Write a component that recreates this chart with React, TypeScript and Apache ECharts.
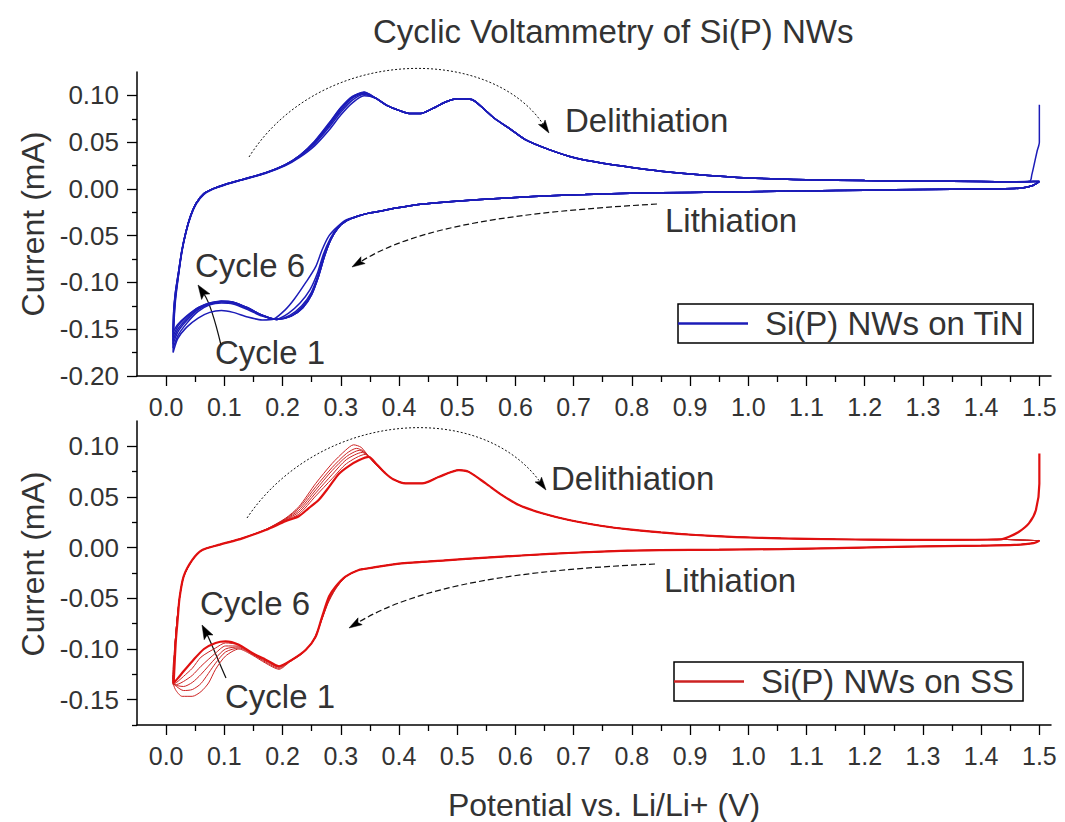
import React, { useEffect, useRef } from 'react';
import * as echarts from 'echarts';

const FONT = '"Liberation Sans", Arial, sans-serif';

const xMajorTicks = [0, 0.1, 0.2, 0.3, 0.4, 0.5, 0.6, 0.7, 0.8, 0.9, 1.0, 1.1, 1.2, 1.3, 1.4, 1.5];
const xMinorTicks = [0.05, 0.15, 0.25, 0.35, 0.45, 0.55, 0.65, 0.75, 0.85, 0.95, 1.05, 1.15, 1.25, 1.35, 1.45];
const tinYMajorTicks = [-0.2, -0.15, -0.1, -0.05, 0, 0.05, 0.1];
const tinYMinorTicks = [-0.175, -0.125, -0.075, -0.025, 0.025, 0.075];
const ssYMajorTicks = [-0.15, -0.1, -0.05, 0, 0.05, 0.1];
const ssYMinorTicks = [-0.175, -0.125, -0.075, -0.025, 0.025, 0.075];

const tinName = 'Si(P) NWs on TiN';
const ssName = 'Si(P) NWs on SS';

// ---------- Si(P) NWs on TiN (top panel) ----------
const tinLithStart = [[1.5, 0.008], [1.49, 0.004]];
const tinLithTail = [[1.47, 0.001], [1.43, 0.0], [1.35, -0.0003], [1.25, -0.001], [1.15, -0.0018], [1.05, -0.0026], [0.95, -0.0034], [0.85, -0.0042], [0.78, -0.0048], [0.72, -0.006], [0.66, -0.0072], [0.6, -0.0092], [0.54, -0.0113], [0.48, -0.014], [0.43, -0.0168], [0.39, -0.021], [0.37, -0.0235]];
const tinLithC1 = [[0.35, -0.0256], [0.33, -0.029], [0.31, -0.033], [0.295, -0.04], [0.28, -0.05], [0.268, -0.065], [0.257, -0.083], [0.24, -0.1], [0.22, -0.118], [0.205, -0.129], [0.185, -0.139], [0.165, -0.14], [0.14, -0.137], [0.115, -0.132], [0.095, -0.13], [0.075, -0.132], [0.055, -0.138], [0.035, -0.148], [0.02, -0.16], [0.012, -0.175]];
const tinLithC2 = [[0.35, -0.0256], [0.33, -0.029], [0.31, -0.034], [0.295, -0.041], [0.282, -0.053], [0.27, -0.07], [0.26, -0.09], [0.247, -0.108], [0.23, -0.122], [0.21, -0.133], [0.19, -0.139], [0.165, -0.136], [0.14, -0.129], [0.115, -0.123], [0.095, -0.122], [0.075, -0.124], [0.055, -0.131], [0.035, -0.144], [0.02, -0.157], [0.012, -0.17]];
const tinLithC3 = [[0.35, -0.0256], [0.33, -0.029], [0.31, -0.034], [0.295, -0.042], [0.283, -0.054], [0.271, -0.071], [0.261, -0.092], [0.249, -0.111], [0.233, -0.125], [0.213, -0.135], [0.19, -0.1395], [0.165, -0.135], [0.14, -0.128], [0.115, -0.122], [0.095, -0.121], [0.075, -0.123], [0.055, -0.129], [0.035, -0.141], [0.02, -0.153], [0.012, -0.166]];
const tinLithC4 = [[0.35, -0.0256], [0.33, -0.029], [0.31, -0.034], [0.295, -0.042], [0.283, -0.054], [0.272, -0.072], [0.262, -0.093], [0.25, -0.112], [0.234, -0.126], [0.214, -0.136], [0.19, -0.1396], [0.165, -0.135], [0.14, -0.127], [0.115, -0.121], [0.095, -0.12], [0.075, -0.123], [0.055, -0.128], [0.035, -0.139], [0.02, -0.15], [0.012, -0.162]];
const tinLithC5 = [[0.35, -0.0256], [0.33, -0.029], [0.31, -0.034], [0.295, -0.042], [0.283, -0.054], [0.272, -0.072], [0.262, -0.093], [0.25, -0.113], [0.235, -0.127], [0.215, -0.136], [0.19, -0.1396], [0.165, -0.135], [0.14, -0.127], [0.115, -0.121], [0.095, -0.12], [0.075, -0.122], [0.055, -0.127], [0.035, -0.137], [0.02, -0.147], [0.012, -0.158]];
const tinLithC6 = [[0.35, -0.0256], [0.33, -0.029], [0.31, -0.034], [0.295, -0.042], [0.283, -0.054], [0.272, -0.072], [0.262, -0.093], [0.25, -0.113], [0.235, -0.127], [0.215, -0.136], [0.19, -0.1396], [0.165, -0.135], [0.14, -0.127], [0.115, -0.121], [0.095, -0.12], [0.075, -0.122], [0.055, -0.127], [0.035, -0.136], [0.02, -0.145], [0.012, -0.153]];
const tinDelithC1 = [[0.012, -0.175], [0.013, -0.15], [0.016, -0.12], [0.021, -0.094], [0.027, -0.068], [0.034, -0.047], [0.042, -0.03], [0.052, -0.016], [0.065, -0.006], [0.08, -0.0005], [0.1, 0.004], [0.13, 0.0095], [0.17, 0.0165], [0.205, 0.025], [0.23, 0.034], [0.255, 0.046], [0.28, 0.063], [0.3, 0.079], [0.32, 0.092], [0.34, 0.0995], [0.36, 0.097], [0.38, 0.089]];
const tinDelithC2 = [[0.012, -0.17], [0.013, -0.145], [0.016, -0.117], [0.021, -0.093], [0.027, -0.067], [0.034, -0.046], [0.042, -0.029], [0.052, -0.015], [0.065, -0.005], [0.08, 0.0], [0.1, 0.0045], [0.13, 0.0097], [0.17, 0.0168], [0.205, 0.0255], [0.23, 0.035], [0.255, 0.048], [0.28, 0.066], [0.3, 0.082], [0.32, 0.095], [0.34, 0.101], [0.36, 0.097], [0.38, 0.089]];
const tinDelithC3 = [[0.012, -0.166], [0.013, -0.14], [0.016, -0.115], [0.021, -0.092], [0.027, -0.067], [0.034, -0.046], [0.042, -0.029], [0.052, -0.015], [0.065, -0.005], [0.08, 0.0], [0.1, 0.0045], [0.13, 0.0098], [0.17, 0.017], [0.205, 0.0258], [0.23, 0.0355], [0.255, 0.049], [0.28, 0.068], [0.3, 0.084], [0.32, 0.097], [0.34, 0.102], [0.36, 0.097], [0.38, 0.089]];
const tinDelithC4 = [[0.012, -0.162], [0.013, -0.135], [0.016, -0.112], [0.021, -0.091], [0.027, -0.066], [0.034, -0.046], [0.042, -0.029], [0.052, -0.015], [0.065, -0.005], [0.08, 0.0], [0.1, 0.0045], [0.13, 0.0099], [0.17, 0.0171], [0.205, 0.026], [0.23, 0.036], [0.255, 0.05], [0.28, 0.069], [0.3, 0.086], [0.32, 0.098], [0.34, 0.103], [0.36, 0.097], [0.38, 0.089]];
const tinDelithC5 = [[0.012, -0.158], [0.013, -0.132], [0.016, -0.111], [0.021, -0.09], [0.027, -0.066], [0.034, -0.046], [0.042, -0.029], [0.052, -0.015], [0.065, -0.005], [0.08, 0.0], [0.1, 0.0045], [0.13, 0.0099], [0.17, 0.0171], [0.205, 0.026], [0.23, 0.036], [0.255, 0.0505], [0.28, 0.07], [0.3, 0.0865], [0.32, 0.0985], [0.34, 0.1032], [0.36, 0.097], [0.38, 0.089]];
const tinDelithC6 = [[0.012, -0.153], [0.013, -0.13], [0.016, -0.11], [0.021, -0.09], [0.027, -0.066], [0.034, -0.046], [0.042, -0.029], [0.052, -0.015], [0.065, -0.005], [0.08, 0.0], [0.1, 0.0045], [0.13, 0.0099], [0.17, 0.0171], [0.205, 0.026], [0.23, 0.036], [0.255, 0.051], [0.28, 0.0705], [0.3, 0.087], [0.32, 0.099], [0.34, 0.1035], [0.36, 0.097], [0.38, 0.089]];
const tinDelithTail = [[0.4, 0.084], [0.42, 0.0805], [0.44, 0.081], [0.463, 0.0876], [0.48, 0.093], [0.5, 0.0965], [0.525, 0.0955], [0.545, 0.086], [0.565, 0.075], [0.589, 0.065], [0.617, 0.0527], [0.658, 0.042], [0.703, 0.033], [0.75, 0.0275], [0.8, 0.023], [0.85, 0.019], [0.9, 0.016], [1.0, 0.0117], [1.1, 0.0098], [1.2, 0.0089], [1.3, 0.0083], [1.4, 0.0079], [1.45, 0.0077]];
const tinEndTip = [[1.48, 0.0078], [1.5, 0.008]];
const tinEndSpike = [[1.484, 0.0085], [1.487, 0.015], [1.49, 0.023], [1.496, 0.04], [1.5, 0.05], [1.5, 0.09]];

// ---------- Si(P) NWs on SS (bottom panel) ----------
const ssLithStart = [[1.5, 0.0069], [1.49, 0.0045]];
const ssLithTail = [[1.457, 0.0027], [1.4, 0.002], [1.274, 0.001], [1.15, -0.0005], [1.056, -0.0014], [0.95, -0.002], [0.85, -0.0025], [0.793, -0.003], [0.7, -0.005], [0.618, -0.0075], [0.55, -0.0098], [0.48, -0.0125], [0.4, -0.0158], [0.348, -0.0203]];
const ssLithC1 = [[0.331, -0.022], [0.308, -0.029], [0.291, -0.041], [0.278, -0.055], [0.265, -0.075], [0.252, -0.092], [0.235, -0.104], [0.212, -0.113], [0.194, -0.12], [0.171, -0.114], [0.148, -0.106], [0.125, -0.1], [0.102, -0.107], [0.085, -0.12], [0.073, -0.1335], [0.06, -0.142], [0.045, -0.1467], [0.0275, -0.1467], [0.016, -0.14], [0.011, -0.13]];
const ssLithC2 = [[0.331, -0.022], [0.308, -0.029], [0.291, -0.0405], [0.279, -0.053], [0.266, -0.073], [0.254, -0.091], [0.237, -0.103], [0.213, -0.112], [0.194, -0.119], [0.171, -0.113], [0.148, -0.105], [0.125, -0.099], [0.102, -0.103], [0.085, -0.114], [0.06, -0.134], [0.045, -0.14], [0.03, -0.141], [0.018, -0.137], [0.012, -0.133]];
const ssLithC3 = [[0.331, -0.022], [0.308, -0.0288], [0.291, -0.04], [0.279, -0.052], [0.267, -0.071], [0.255, -0.09], [0.238, -0.102], [0.214, -0.111], [0.194, -0.118], [0.171, -0.112], [0.148, -0.105], [0.125, -0.098], [0.102, -0.1], [0.085, -0.109], [0.06, -0.125], [0.045, -0.133], [0.03, -0.137], [0.018, -0.136], [0.012, -0.134]];
const ssLithC4 = [[0.331, -0.022], [0.308, -0.0287], [0.291, -0.0395], [0.28, -0.05], [0.267, -0.07], [0.256, -0.089], [0.239, -0.1015], [0.215, -0.111], [0.194, -0.1175], [0.171, -0.111], [0.148, -0.1045], [0.125, -0.097], [0.102, -0.097], [0.085, -0.104], [0.06, -0.117], [0.045, -0.126], [0.03, -0.132], [0.018, -0.135], [0.012, -0.135]];
const ssLithC5 = [[0.331, -0.022], [0.308, -0.0286], [0.291, -0.039], [0.28, -0.049], [0.268, -0.069], [0.257, -0.088], [0.24, -0.101], [0.216, -0.1105], [0.194, -0.117], [0.171, -0.1105], [0.148, -0.104], [0.125, -0.096], [0.102, -0.094], [0.085, -0.099], [0.06, -0.108], [0.045, -0.119], [0.03, -0.127], [0.018, -0.133], [0.012, -0.135]];
const ssLithC6 = [[0.331, -0.022], [0.308, -0.0285], [0.291, -0.0384], [0.28, -0.048], [0.268, -0.068], [0.257, -0.0876], [0.24, -0.1007], [0.2165, -0.1105], [0.194, -0.117], [0.171, -0.1105], [0.148, -0.104], [0.125, -0.0958], [0.102, -0.0925], [0.085, -0.094], [0.065, -0.1], [0.045, -0.112], [0.03, -0.122], [0.02, -0.129], [0.013, -0.1335]];
const ssDelithC1 = [[0.011, -0.13], [0.013, -0.11], [0.016, -0.09], [0.019, -0.07], [0.023, -0.05], [0.03, -0.029], [0.045, -0.0125], [0.062, -0.0025], [0.09, 0.0027], [0.131, 0.0095], [0.171, 0.018], [0.205, 0.029], [0.228, 0.0404], [0.257, 0.0634], [0.285, 0.083], [0.308, 0.096], [0.322, 0.1015], [0.335, 0.099], [0.348, 0.09], [0.36, 0.082], [0.377, 0.0732]];
const ssDelithC2 = [[0.012, -0.133], [0.014, -0.11], [0.016, -0.09], [0.019, -0.07], [0.023, -0.05], [0.03, -0.029], [0.045, -0.0124], [0.062, -0.0024], [0.09, 0.0027], [0.131, 0.0094], [0.171, 0.0178], [0.205, 0.0285], [0.228, 0.039], [0.257, 0.06], [0.285, 0.079], [0.31, 0.093], [0.327, 0.098], [0.34, 0.095], [0.352, 0.087], [0.362, 0.081], [0.377, 0.0732]];
const ssDelithC3 = [[0.012, -0.134], [0.014, -0.11], [0.016, -0.09], [0.019, -0.07], [0.023, -0.05], [0.03, -0.029], [0.045, -0.0123], [0.062, -0.0024], [0.09, 0.0027], [0.131, 0.0093], [0.171, 0.0177], [0.205, 0.028], [0.228, 0.037], [0.257, 0.057], [0.285, 0.076], [0.31, 0.09], [0.332, 0.096], [0.345, 0.092], [0.356, 0.085], [0.366, 0.08], [0.377, 0.0732]];
const ssDelithC4 = [[0.012, -0.135], [0.014, -0.11], [0.016, -0.09], [0.019, -0.07], [0.023, -0.05], [0.03, -0.0287], [0.045, -0.0122], [0.062, -0.0023], [0.09, 0.0027], [0.131, 0.0093], [0.171, 0.0176], [0.205, 0.0275], [0.228, 0.035], [0.257, 0.054], [0.285, 0.072], [0.31, 0.087], [0.337, 0.094], [0.35, 0.089], [0.36, 0.083], [0.368, 0.079], [0.377, 0.0732]];
const ssDelithC5 = [[0.012, -0.135], [0.014, -0.11], [0.016, -0.09], [0.019, -0.07], [0.023, -0.05], [0.03, -0.0286], [0.045, -0.0121], [0.062, -0.0023], [0.09, 0.0027], [0.131, 0.0092], [0.171, 0.0175], [0.205, 0.027], [0.228, 0.033], [0.257, 0.051], [0.285, 0.068], [0.31, 0.083], [0.342, 0.092], [0.353, 0.087], [0.363, 0.082], [0.37, 0.078], [0.377, 0.0732]];
const ssDelithC6 = [[0.013, -0.1335], [0.015, -0.11], [0.017, -0.09], [0.02, -0.07], [0.023, -0.05], [0.03, -0.0285], [0.045, -0.0121], [0.062, -0.0023], [0.09, 0.0027], [0.131, 0.0092], [0.171, 0.0174], [0.205, 0.026], [0.228, 0.031], [0.245, 0.039], [0.262, 0.047], [0.28, 0.06], [0.297, 0.073], [0.315, 0.081], [0.331, 0.0863], [0.348, 0.0896], [0.362, 0.082], [0.377, 0.0732]];
const ssDelithTail = [[0.39, 0.0675], [0.411, 0.0634], [0.44, 0.0634], [0.469, 0.07], [0.503, 0.0765], [0.52, 0.0748], [0.549, 0.0634], [0.577, 0.0519], [0.606, 0.042], [0.646, 0.0339], [0.692, 0.0273], [0.749, 0.0214], [0.795, 0.018], [0.85, 0.015], [0.91, 0.0125], [0.98, 0.0105], [1.056, 0.0092], [1.15, 0.0083], [1.274, 0.0076], [1.38, 0.0078], [1.434, 0.0082]];
const ssEndTip = [[1.47, 0.0075], [1.5, 0.0069]];
const ssEndSpike = [[1.448, 0.0108], [1.465, 0.0157], [1.482, 0.024], [1.494, 0.037], [1.5, 0.063], [1.5, 0.093]];

const tinLithHeads = [tinLithC1, tinLithC2, tinLithC3, tinLithC4, tinLithC5, tinLithC6];
const tinDelithHeads = [tinDelithC1, tinDelithC2, tinDelithC3, tinDelithC4, tinDelithC5, tinDelithC6];
const ssLithHeads = [ssLithC1, ssLithC2, ssLithC3, ssLithC4, ssLithC5, ssLithC6];
const ssDelithHeads = [ssDelithC1, ssDelithC2, ssDelithC3, ssDelithC4, ssDelithC5, ssDelithC6];

function arrow(p0: number[], c1: number[], c2: number[], p1: number[], dash: number[], width: number, headLen: number, headW: number) {
  const dx = p1[0] - c2[0];
  const dy = p1[1] - c2[1];
  const L = Math.hypot(dx, dy);
  const ux = dx / L, uy = dy / L;
  const bx = p1[0] - ux * headLen * 0.8, by = p1[1] - uy * headLen * 0.8;
  const hx = p1[0] - ux * headLen, hy = p1[1] - uy * headLen;
  return [
    {
      type: 'bezierCurve',
      shape: { x1: p0[0], y1: p0[1], cpx1: c1[0], cpy1: c1[1], cpx2: c2[0], cpy2: c2[1], x2: bx, y2: by },
      style: { stroke: '#111', lineWidth: width, lineDash: dash, fill: null },
      silent: true,
    },
    {
      type: 'polygon',
      shape: { points: [[p1[0], p1[1]], [hx - uy * headW, hy + ux * headW], [bx, by], [hx + uy * headW, hy - ux * headW]] },
      style: { fill: '#000', stroke: '#000', lineWidth: 0.5 },
      silent: true,
    },
  ];
}

function label(text: string, x: number, y: number) {
  return {
    type: 'text',
    x,
    y,
    style: { text, fontSize: 33, fontFamily: FONT, fill: '#333', verticalAlign: 'middle', align: 'left' },
    silent: true,
  };
}

const xAxisCommon = (gridIndex: number) => ({
  type: 'value',
  gridIndex,
  min: -0.05,
  max: 1.52,
  axisLine: { show: true, onZero: false, lineStyle: { color: '#000', width: 1.5 } },
  axisTick: { show: true, customValues: xMajorTicks, length: 10, lineStyle: { color: '#000', width: 1.3 } },
  axisLabel: { show: true, customValues: xMajorTicks, margin: 18, fontSize: 25, fontFamily: FONT, color: '#333', formatter: (v: number) => v.toFixed(1) },
  splitLine: { show: false },
});
const xAxisMinor = (gridIndex: number) => ({
  type: 'value',
  gridIndex,
  position: 'bottom',
  min: -0.05,
  max: 1.52,
  axisLine: { show: false, onZero: false },
  axisTick: { show: true, customValues: xMinorTicks, length: 6, lineStyle: { color: '#000', width: 1.3 } },
  axisLabel: { show: false },
  splitLine: { show: false },
});
const yAxisMajor = (gridIndex: number, min: number, max: number, ticks: number[], namePad: number[]) => ({
  type: 'value',
  gridIndex,
  min,
  max,
  name: 'Current (mA)',
  nameLocation: 'middle',
  nameGap: 88,
  nameTextStyle: { fontSize: 32, fontFamily: FONT, color: '#333', padding: namePad },
  axisLine: { show: true, onZero: false, lineStyle: { color: '#000', width: 1.5 } },
  axisTick: { show: true, customValues: ticks, length: 10, lineStyle: { color: '#000', width: 1.3 } },
  axisLabel: { show: true, customValues: ticks, margin: 18, fontSize: 26, fontFamily: FONT, color: '#333', formatter: (v: number) => v.toFixed(2) },
  splitLine: { show: false },
});
const yAxisMinor = (gridIndex: number, min: number, max: number, ticks: number[]) => ({
  type: 'value',
  gridIndex,
  position: 'left',
  min,
  max,
  axisLine: { show: false, onZero: false },
  axisTick: { show: true, customValues: ticks, length: 5, lineStyle: { color: '#000', width: 1.3 } },
  axisLabel: { show: false },
  splitLine: { show: false },
});

export default function App() {
  const ref = useRef<HTMLDivElement>(null);
  useEffect(() => {
    if (!ref.current) return;
    const chart = echarts.init(ref.current, null, { renderer: 'svg' });

    const series: any[] = [];
    for (let k = 0; k < 6; k++) {
      series.push({
        type: 'line',
        name: tinName,
        xAxisIndex: 0,
        yAxisIndex: 0,
        symbol: 'none',
        smooth: 0.25,
        lineStyle: { color: '#1c1cb8', width: 1.5 },
        itemStyle: { color: '#1c1cb8' },
        data: [...tinLithStart, ...tinLithTail, ...tinLithHeads[k], ...tinDelithHeads[k], ...tinDelithTail, ...(k === 5 ? tinEndSpike : tinEndTip)],
      });
    }
    for (let k = 0; k < 6; k++) {
      series.push({
        type: 'line',
        name: ssName,
        xAxisIndex: 2,
        yAxisIndex: 2,
        symbol: 'none',
        smooth: 0.25,
        lineStyle: { color: k === 5 ? '#e01010' : '#cc2222', width: k === 5 ? 2.2 : 1 },
        itemStyle: { color: '#cc2222' },
        data: [...ssLithStart, ...ssLithTail, ...ssLithHeads[k], ...ssDelithHeads[k], ...ssDelithTail, ...(k === 5 ? ssEndSpike : ssEndTip)],
      });
    }

    const legendCommon = {
      orient: 'horizontal',
      icon: 'rect',
      itemWidth: 70,
      itemHeight: 2.5,
      padding: [3, 9, 3, 0],
      borderColor: '#000',
      borderWidth: 1.5,
      selectedMode: false,
      textStyle: { fontSize: 33, fontFamily: FONT, color: '#333', padding: [0, 0, 0, 12] },
    };

    const option: any = {
      animation: false,
      backgroundColor: '#fff',
      textStyle: { fontFamily: FONT },
      title: {
        text: 'Cyclic Voltammetry of Si(P) NWs',
        left: 368,
        top: 10,
        textStyle: { fontSize: 33, fontWeight: 'normal', fontFamily: FONT, color: '#333' },
      },
      legend: [
        { ...legendCommon, data: [tinName], left: 678, top: 304 },
        { ...legendCommon, data: [ssName], left: 674, top: 662 },
      ],
      grid: [
        { left: 137, right: 14, top: 72, height: 304 },
        { left: 137, right: 14, top: 421, height: 304 },
      ],
      xAxis: [
        xAxisCommon(0),
        xAxisMinor(0),
        {
          ...xAxisCommon(1),
          name: 'Potential vs. Li/Li+ (V)',
          nameLocation: 'middle',
          nameGap: 64,
          nameTextStyle: { fontSize: 32, fontFamily: FONT, color: '#333', padding: [0, 0, 0, 20] },
        },
        xAxisMinor(1),
      ],
      yAxis: [
        yAxisMajor(0, -0.2, 0.125, tinYMajorTicks, [0, 0, 0, 0]),
        yAxisMinor(0, -0.2, 0.125, tinYMinorTicks),
        yAxisMajor(1, -0.175, 0.125, ssYMajorTicks, [0, 0, 0, 18]),
        yAxisMinor(1, -0.175, 0.125, ssYMinorTicks),
      ],
      graphic: [
        label('Delithiation', 565, 120),
        label('Lithiation', 665, 220),
        label('Cycle 6', 195, 265),
        label('Cycle 1', 215, 352),
        label('Delithiation', 551, 478),
        label('Lithiation', 664, 580),
        label('Cycle 6', 200, 603),
        label('Cycle 1', 225, 696),
        ...arrow([249, 157], [320, 45], [490, 45], [549, 133], [2, 2], 1, 13, 4),
        ...arrow([657, 204], [520, 212], [420, 225], [352, 267], [6, 3], 1.2, 13, 4),
        ...arrow([221, 345], [215, 320], [208, 300], [198, 285], [], 1.2, 14, 5),
        ...arrow([247, 518], [320, 410], [480, 400], [546, 490], [2, 2], 1, 13, 4),
        ...arrow([655, 564], [520, 570], [420, 585], [349, 628], [6, 3], 1.2, 13, 4),
        ...arrow([226, 678], [218, 660], [210, 640], [202, 625], [], 1.2, 14, 5),
      ],
      series,
    };
    chart.setOption(option);
    return () => chart.dispose();
  }, []);
  return <div ref={ref} style={{ position: 'fixed', left: 0, top: 0, width: 1065, height: 822, background: '#fff' }} />;
}
